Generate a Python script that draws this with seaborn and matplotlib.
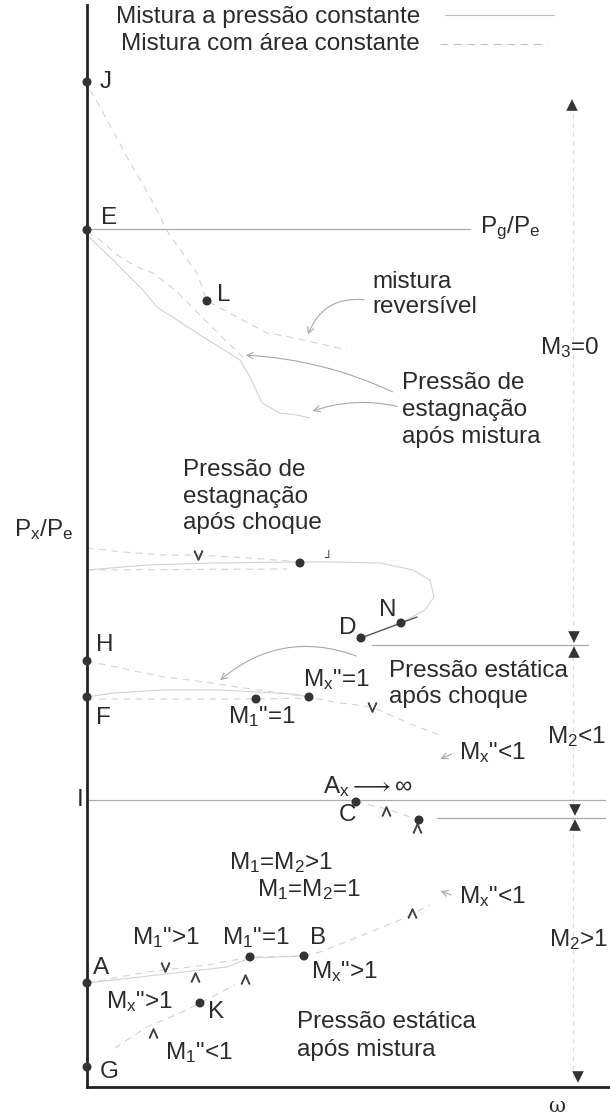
import matplotlib
matplotlib.use("Agg")
import matplotlib.pyplot as plt
import seaborn as sns
import pandas as pd

# ---------------- data (omega, P) in chart units ----------------
# named state points
point_names = ["J", "E", "L", "S", "D", "N", "H", "F", "M1a", "Mxa", "C", "Q",
               "M1b", "B", "A", "K", "G"]
point_w = [0, 0, 120, 213, 274, 314, 0, 0, 169, 222, 269, 332, 163, 217, 0, 113, 0]
point_p = [1005, 857, 786, 524, 449, 464, 426, 390, 388, 390, 285, 267, 130, 131, 104, 84, 20]

# curves (faint)
jl_w = [3, 13, 40, 63, 83, 110, 120, 180, 203, 260]
jl_p = [997, 980, 930, 890, 851, 814, 786, 754, 750, 737]
e1_w = [0, 13, 33, 50, 66, 88, 113, 138, 156]
e1_p = [855, 847, 830, 820, 814, 797, 772, 747, 730]
e2_w = [0, 26, 43, 56, 70, 113, 153, 163, 175, 193, 210, 223]
e2_p = [852, 827, 810, 797, 780, 752, 727, 710, 684, 674, 672, 669]
sa_w = [0, 36, 76, 111, 163, 213]            # dashed, stagnation after shock
sa_p = [539, 535, 532, 532, 529, 525]
sb_w = [0, 60, 126, 213]                     # solid, stagnation after shock
sb_p = [517, 522, 524, 525]
sc_w = [0, 200]
sc_p = [517, 518]
sn_w = [213, 246, 293, 326, 343, 347, 338, 325, 314]
sn_p = [525, 525, 524, 517, 507, 490, 477, 470, 464]
dn_w = [274, 314, 330]
dn_p = [449, 464, 470]
h_w = [0, 43, 76, 103, 131, 150, 193, 222, 246, 285, 326, 353]
h_p = [426, 417, 410, 407, 403, 400, 394, 390, 385, 380, 362, 352]
f_w = [0, 26, 76, 133, 170, 206, 222]
f_p = [390, 394, 397, 397, 395, 393, 390]
fd_w = [0, 169, 222]
fd_p = [388, 388, 389]
cq_w = [269, 300, 332]
cq_p = [285, 278, 267]
ab_w = [0, 70, 140, 163, 217]
ab_p = [104, 112, 120, 129, 131]
abd_w = [0, 60, 120, 163, 217]
abd_p = [104, 115, 122, 130, 131]
bu_w = [217, 233, 276, 313, 343]
bu_p = [131, 135, 152, 167, 182]
k_w = [28, 40, 60, 93, 113, 148]
k_p = [39, 47, 60, 74, 84, 102]

# reference levels
pg_level, pg_w = 858, [0, 383]
i_level, i_w = 287, [0, 518]
d_level, d_w = 442, [285, 501]
c_level, c_w = 269, [350, 518]

# regime markers on the right
tri_w = [485, 487, 487, 488, 488, 491]
tri_p = [982, 450, 435, 277, 262, 10]
tri_m = ["^", "v", "^", "v", "^", "v"]
rv_w = [486, 486]
rv_p = [982, 10]

# chevrons on curves
chev_w = [111, 285, 299, 330, 78, 108, 158, 325, 66]
chev_p = [532, 380, 276, 259, 120, 110, 108, 174, 54]
chev_s = ["v", "v", "^", "^", "v", "^", "^", "^", "^"]

# ---------------- style ----------------
sns.set_theme(style="white")
plt.rcParams["font.family"] = ["Liberation Sans", "DejaVu Sans"]
plt.rcParams["mathtext.fontset"] = "custom"
plt.rcParams["mathtext.rm"] = "Liberation Sans"
plt.rcParams["mathtext.it"] = "Liberation Sans"
plt.rcParams["mathtext.bf"] = "Liberation Sans"

TXT = "#2b2b2b"
FAINT = "#d2d2d2"
MED = "#acacac"
FS = 17.5

fig = plt.figure(figsize=(6.1, 11.18), dpi=100)
ax = fig.add_axes([87 / 610, 31 / 1118, 523 / 610, 1082 / 1118])
ax.set_xlim(0, 523)
ax.set_ylim(0, 1082)
ax.set_xticks([])
ax.set_yticks([])
for s in ["top", "right"]:
    ax.spines[s].set_visible(False)
for s in ["left", "bottom"]:
    ax.spines[s].set_color("#222222")
    ax.spines[s].set_linewidth(2.0)


def line(w, p, color=FAINT, lw=0.8, ls="-"):
    sns.lineplot(x=w, y=p, sort=False, estimator=None, ax=ax, color=color,
                 lw=lw, linestyle=ls, clip_on=False)


DASH = (0, (6, 5))
line(jl_w, jl_p, ls=DASH)
line(e1_w, e1_p, ls=DASH)
line(e2_w, e2_p)
line(sa_w, sa_p, ls=DASH)
line(sb_w, sb_p)
line(sc_w, sc_p, ls=DASH)
line(sn_w, sn_p)
line(dn_w, dn_p, color="#555555", lw=1.0)
line(h_w, h_p, ls=DASH)
line(f_w, f_p)
line(fd_w, fd_p, ls=DASH)
line(cq_w, cq_p, ls=DASH)
line(ab_w, ab_p)
line(abd_w, abd_p, ls=DASH)
line(bu_w, bu_p, ls=DASH)
line(k_w, k_p, ls=DASH)
line(rv_w, rv_p, color="#dadada", lw=0.8, ls=(0, (4, 4)))

line(pg_w, [pg_level] * 2, color=MED, lw=0.9)
line(i_w, [i_level] * 2, color=MED, lw=0.9)
line(d_w, [d_level] * 2, color=MED, lw=0.9)
line(c_w, [c_level] * 2, color=MED, lw=0.9)

# legend samples
line([358, 467], [1072, 1072], color="#bdbdbd", lw=0.8)
line([353, 460], [1043, 1043], color="#bdbdbd", lw=0.8, ls=(0, (7, 5)))

# state points
pts = pd.DataFrame({"w": point_w, "p": point_p, "name": point_names})
sns.scatterplot(data=pts, x="w", y="p", color="#333333", s=42, ax=ax,
                edgecolor="none", zorder=5, clip_on=False)

# triangles
for m in ["^", "v"]:
    sel = [i for i, mm in enumerate(tri_m) if mm == m]
    sns.scatterplot(x=[tri_w[i] for i in sel], y=[tri_p[i] for i in sel],
                    marker=m, s=70, color="#333333", edgecolor="none", ax=ax,
                    zorder=5, clip_on=False)

# direction chevrons
for c, mk in [("v", r"$\vee$"), ("^", r"$\wedge$")]:
    sel = [i for i, cc in enumerate(chev_s) if cc == c]
    sns.scatterplot(x=[chev_w[i] for i in sel], y=[chev_p[i] for i in sel],
                    marker=mk, s=45, color="#444444", edgecolor="#444444",
                    linewidth=0.9, ax=ax, zorder=4)
ax.text(241, 529, "┘", fontsize=9, color="#444444", ha="center", va="center",
        family="DejaVu Sans", fontweight="bold")


def t(x, y, s, ha="left", size=FS, **kw):
    ax.text(x, y, s, ha=ha, va="center", fontsize=size, color=TXT,
            clip_on=False, **kw)


t(333, 1070, "Mistura a pressão constante", ha="right")
t(333, 1043, "Mistura com área constante", ha="right")
t(13, 1005, "J")
t(14, 869, "E")
t(130, 792, "L")
t(393, 859, "P$_g$/P$_e$")
t(285, 805, "mistura")
t(285, 780, "reversível")
t(453, 739, "M$_3$=0")
t(315, 704, "Pressão de")
t(315, 677, "estagnação")
t(315, 650, "após mistura")
t(96, 617, "Pressão de")
t(96, 590, "estagnação")
t(96, 564, "após choque")
t(-73, 557, "P$_x$/P$_e$")
t(292, 477, "N")
t(252, 459, "D")
t(9, 442, "H")
t(302, 416, "Pressão estática")
t(302, 390, "após choque")
t(216, 407, 'M$_x$"=1')
t(141, 370, 'M$_1$"=1')
t(9, 369, "F")
t(460, 350, "M$_2$<1")
t(372, 334, 'M$_x$"<1')
t(236, 300, r"A$_{x}$$\longrightarrow$$\infty$")
t(-7, 287, "I", ha="center")
t(252, 272, "C")
t(142, 224, "M$_1$=M$_2$>1")
t(170, 197, "M$_1$=M$_2$=1")
t(372, 190, 'M$_x$"<1')
t(45, 149, 'M$_1$">1')
t(135, 149, 'M$_1$"=1')
t(223, 149, "B")
t(462, 147, "M$_2$>1")
t(6, 119, "A")
t(224, 115, 'M$_x$">1')
t(19, 85, 'M$_x$">1')
t(121, 75, "K")
t(210, 65, "Pressão estática")
t(210, 37, "após mistura")
t(78, 34, 'M$_1$"<1')
t(13, 15, "G")
ax.text(470, -20, "ω", ha="center", va="center", fontsize=15, color=TXT,
        family="DejaVu Serif", clip_on=False)

# leader arrows
AP = dict(arrowstyle="->", color="#a8a8a8", lw=0.8, mutation_scale=11)
ax.annotate("", xy=(220, 750), xytext=(280, 787),
            arrowprops=dict(AP, connectionstyle="arc3,rad=0.4"))
ax.annotate("", xy=(156, 732), xytext=(308, 694),
            arrowprops=dict(AP, connectionstyle="arc3,rad=0.1"))
ax.annotate("", xy=(223, 675), xytext=(313, 680),
            arrowprops=dict(AP, connectionstyle="arc3,rad=0.15"))
ax.annotate("", xy=(131, 405), xytext=(272, 430),
            arrowprops=dict(AP, connectionstyle="arc3,rad=0.3"))
ax.annotate("", xy=(351, 327), xytext=(367, 334), arrowprops=AP)
ax.annotate("", xy=(351, 197), xytext=(367, 191), arrowprops=AP)

fig.savefig("out.png", dpi=100)
